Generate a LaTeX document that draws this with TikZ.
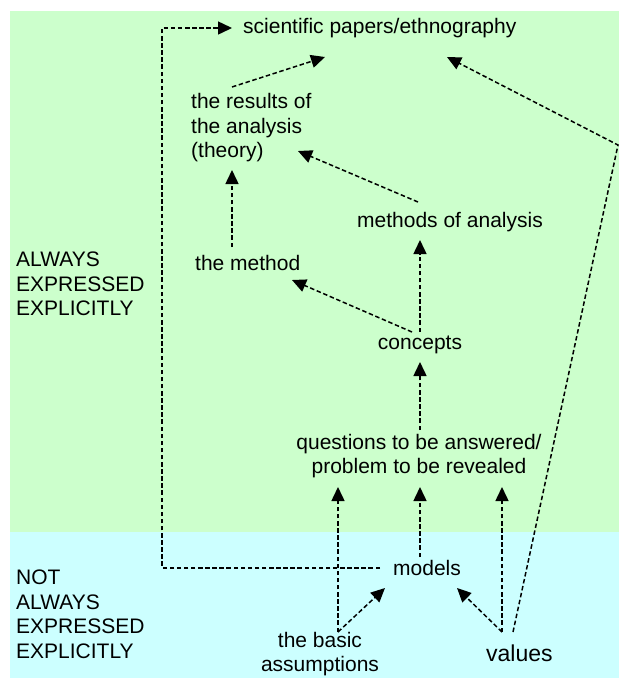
\documentclass[tikz,border=0pt]{standalone}
\usepackage{fontspec}
\setmainfont{Liberation Sans}
\usetikzlibrary{arrows.meta}
\definecolor{bggreen}{RGB}{204,255,204}
\definecolor{bgcyan}{RGB}{204,255,255}
\begin{document}
\begin{tikzpicture}[x=1pt,y=-1pt,
  lbl/.style={font=\fontsize{21}{24.5}\selectfont, inner sep=0pt, align=center},
  llbl/.style={font=\fontsize{21}{24.5}\selectfont, inner sep=0pt, align=left},
  conn/.style={line width=1.5pt, dash pattern=on 4.5pt off 2.6pt},
  arr/.style={conn, -{Triangle[length=14pt,width=13pt]}}]
\useasboundingbox (0,0) rectangle (619,678);
\fill[bggreen] (10,11) rectangle (619,532);
\fill[bgcyan] (10,532) rectangle (619,678);

% nodes
\node[lbl, anchor=west] (papers) at (243,28) {scientific papers/ethnography};
\node[llbl, anchor=west] (results) at (191,128) {the results of\\the analysis\\(theory)};
\node[lbl, anchor=west] (methods) at (357,222) {methods of analysis};
\node[lbl, anchor=west] (method) at (195,263) {the method};
\node[lbl] (concepts) at (420,345) {concepts};
\node[lbl] (questions) at (419,456) {questions to be answered/\\problem to be revealed};
\node[lbl, anchor=west] (models) at (393,568) {models};
\node[lbl] (basic) at (320,654) {the basic\\assumptions};
\node[lbl, anchor=west, font=\fontsize{23}{26}\selectfont] (values) at (486,653) {values};
\node[llbl, anchor=west] (always) at (16,284) {ALWAYS\\EXPRESSED\\EXPLICITLY};
\node[llbl, anchor=west] (notalways) at (16,614.5) {NOT\\ALWAYS\\EXPRESSED\\EXPLICITLY};

% connector end points
\coordinate (r1) at (232,87);   \coordinate (p1) at (325,57);
\coordinate (ma1) at (418,202); \coordinate (t1) at (298,151);
\coordinate (me1) at (232,247); \coordinate (t2) at (232,170);
\coordinate (c1) at (412,332);  \coordinate (me2) at (292,280);
\coordinate (c2) at (420,332);  \coordinate (ma2) at (420,240);
\coordinate (q1) at (420,430);  \coordinate (c3) at (420,362);
\coordinate (b1) at (338,632);  \coordinate (q2) at (338,487);
\coordinate (mo1) at (420,557); \coordinate (q3) at (420,487);
\coordinate (v1) at (502,632);  \coordinate (q4) at (502,487);
\coordinate (mo2) at (385,588); \coordinate (mo3) at (457,588);
\coordinate (v2) at (513,632);  \coordinate (rc) at (618,145);
\coordinate (p2) at (447,57);
\coordinate (mo4) at (380,568); \coordinate (lc) at (162,28);
\coordinate (p3) at (232,28);

% connectors
\draw[arr] (r1) -- (p1);
\draw[arr] (ma1) -- (t1);
\draw[arr] (me1) -- (t2);
\draw[arr] (c1) -- (me2);
\draw[arr] (c2) -- (ma2);
\draw[arr] (q1) -- (c3);
\draw[arr] (b1) -- (q2);
\draw[arr] (mo1) -- (q3);
\draw[arr] (v1) -- (q4);
\draw[arr] (b1) -- (mo2);
\draw[arr] (v1) -- (mo3);
\draw[arr] (v2) -- (rc) -- (p2);
\draw[arr] (mo4) -| (lc) -- (p3);
\end{tikzpicture}
\end{document}
